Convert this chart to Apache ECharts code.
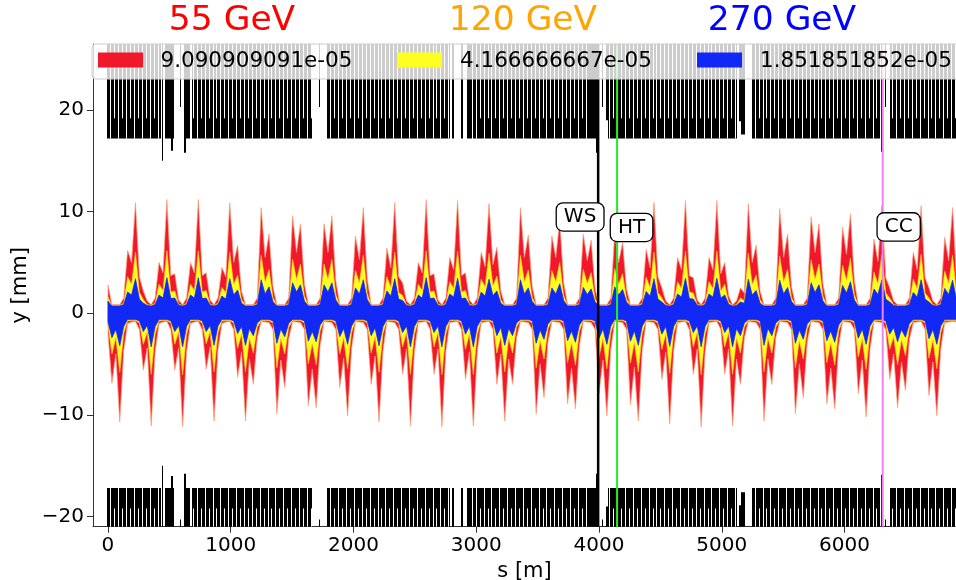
<!DOCTYPE html>
<html><head><meta charset="utf-8">
<script src="https://cdn.jsdelivr.net/npm/echarts@6/dist/echarts.min.js"></script>
<style>html,body{margin:0;padding:0;background:#fff}#c{width:956px;height:580px}</style>
</head><body><div id="c"></div>
<script>
// ---------------- data ----------------
const titles = ['55 GeV', '120 GeV', '270 GeV'];
const emittanceLabels = ['9.090909091e-05', '4.166666667e-05', '1.851851852e-05'];
const xTicks = [0, 1000, 2000, 3000, 4000, 5000, 6000];
const yTicks = [-20, -10, 0, 10, 20];

const envS = [
0,32,64,96,128,160,192,224, 256,288,320,352,384,416,448,480, 512,544,576,608,640,672,704,736,
768,800,832,864,896,928,960,992, 1024,1056,1088,1120,1152,1184,1216,1248, 1280,1312,1344,1376,1408,1440,1472,1504,
1536,1568,1600,1632,1664,1696,1728,1760, 1792,1824,1856,1888,1920,1952,1984,2016, 2048,2080,2112,2144,2176,2208,2240,2272,
2304,2336,2368,2400,2432,2464,2496,2528, 2560,2592,2624,2656,2688,2720,2752,2784, 2816,2848,2880,2912,2944,2976,3008,3040,
3072,3104,3136,3168,3200,3232,3264,3296, 3328,3360,3392,3424,3456,3488,3520,3552, 3584,3616,3648,3680,3712,3744,3776,3808,
3840,3872,3904,3936,3968,4000,4032,4064, 4096,4128,4160,4192,4224,4256,4288,4320, 4352,4384,4416,4448,4480,4512,4544,4576,
4608,4640,4672,4704,4736,4768,4800,4832, 4864,4896,4928,4960,4992,5024,5056,5088, 5120,5152,5184,5216,5248,5280,5312,5344,
5376,5408,5440,5472,5504,5536,5568,5600, 5632,5664,5696,5728,5760,5792,5824,5856, 5888,5920,5952,5984,6016,6048,6080,6112,
6144,6176,6208,6240,6272,6304,6336,6368, 6400,6432,6464,6496,6528,6560,6592,6624, 6656,6688,6720,6752,6784,6816,6848,6880,
6912];

const redUpper = [
2.8,0.85,0.85,0.85,1.5,6.2,5.0,10.9, 3.6,2.2,1.2,0.85,1.5,5.0,4.0,11.2, 3.7,3.9,1.3,0.85,1.5,5.0,4.0,11.2,
3.7,4.0,1.3,0.85,1.5,4.5,3.6,10.9, 5.0,6.7,2.2,0.85,0.85,0.85,1.5,10.4, 5.5,7.8,2.6,0.85,0.85,0.85,1.5,9.6,
6.0,8.8,2.9,0.85,0.85,0.85,1.5,8.8, 6.0,9.6,3.2,0.85,0.85,0.85,1.5,7.6, 5.3,10.4,3.4,0.85,0.85,0.85,1.5,6.4,
4.5,10.9,3.6,3.0,1.2,0.85,1.5,5.0, 4.0,11.2,3.7,3.9,1.3,0.85,1.5,5.5, 4.3,11.1,3.7,4.0,1.3,0.85,1.5,6.0,
4.6,10.8,4.8,6.5,2.2,0.85,0.85,0.85, 1.5,10.4,5.5,7.7,2.6,0.85,0.85,0.85, 1.5,7.6,5.5,9.1,3.0,0.85,0.85,0.85,
1.5,7.8,5.2,7.2,2.4,0.85,0.85,0.85, 1.5,8.0,5.0,7.0,2.4,0.85,0.85,0.85, 1.5,6.3,4.5,10.9,3.6,2.5,1.2,0.85,
1.5,5.5,4.3,11.1,3.7,3.5,1.3,0.85, 1.5,5.5,4.3,11.1,3.9,5.0,1.7,0.85, 1.2,2.5,2.0,10.8,5.0,6.7,2.2,0.85,
0.85,0.85,1.5,10.3,5.5,7.8,2.6,0.85, 0.85,0.85,1.5,9.5,6.0,8.8,2.9,0.85, 0.85,0.85,1.5,8.5,5.8,9.8,3.2,0.85,
0.85,0.85,1.5,7.3,5.1,10.6,3.5,2.5, 1.2,0.85,0.85,0.85,1.5,6.0,4.3,10.6, 3.5,2.5,1.2,0.85,1.5,7.5,5.2,10.4,
3.4];

const redLower = [
-2.0,-6.9,-4.0,-10.7,-3.7,-1.0,-0.85,-0.8, -1.6,-5.6,-3.4,-11.1,-3.8,-1.0,-0.85,-0.8, -1.6,-5.6,-3.4,-11.2,-3.8,-1.0,-0.85,-0.8,
-1.6,-5.5,-3.3,-10.6,-3.6,-1.0,-0.85,-0.8, -1.6,-6.3,-3.8,-10.6,-4.5,-7.0,-2.4,-0.8, -0.85,-0.9,-1.6,-9.9,-4.6,-7.3,-2.5,-0.8,
-0.85,-0.9,-1.6,-9.1,-5.5,-9.3,-3.2,-0.8, -0.85,-0.9,-1.6,-7.3,-4.4,-10.1,-3.5,-0.8, -0.85,-0.9,-1.6,-7.0,-4.2,-10.7,-3.7,-0.8,
-0.85,-0.9,-1.6,-6.0,-3.5,-11.1,-3.8,-0.9, -0.85,-0.8,-1.6,-6.0,-3.5,-11.2,-3.8,-0.9, -0.85,-0.8,-1.6,-6.5,-3.8,-11.1,-3.8,-0.9,
-0.85,-0.8,-1.6,-7.0,-4.0,-10.6,-4.5,-7.0, -2.4,-0.8,-0.85,-0.9,-1.6,-9.9,-5.0,-8.3, -2.8,-0.8,-0.85,-0.9,-1.6,-8.9,-5.4,-9.4,
-3.2,-0.8,-0.85,-0.9,-1.6,-7.9,-4.6,-10.1, -3.5,-0.8,-0.85,-0.9,-1.6,-9.0,-5.3,-10.6, -3.6,-0.8,-0.85,-0.9,-1.6,-6.5,-3.8,-10.9,
-3.7,-0.9,-0.85,-0.8,-1.6,-6.0,-3.5,-11.2, -3.8,-0.9,-0.85,-0.8,-1.6,-6.0,-3.5,-11.1, -4.5,-7.0,-2.4,-0.8,-0.85,-0.9,-1.6,-10.6,
-4.5,-7.0,-2.4,-0.8,-0.85,-0.9,-1.6,-9.9, -5.0,-8.3,-2.8,-0.8,-0.85,-0.9,-1.6,-8.9, -5.4,-9.4,-3.2,-0.8,-0.85,-0.9,-1.6,-7.9,
-4.6,-10.2,-3.5,-0.8,-0.85,-0.9,-1.6,-6.5, -4.0,-9.3,-4.8,-7.6,-2.6,-0.9,-0.85,-0.8, -1.6,-8.1,-4.8,-10.1,-3.5,-0.9,-0.85,-0.8,
-0.85];

const yellowUpper = [
1.6,0.78,0.78,0.78,1.0,3.6,2.85,6.0, 2.05,1.35,0.85,0.78,1.0,2.85,2.25,6.15, 2.1,2.2,0.9,0.78,1.0,2.85,2.25,6.15,
2.1,2.25,0.9,0.78,1.0,2.55,2.05,6.0, 2.85,3.75,1.35,0.78,0.78,0.78,1.0,5.7, 3.1,4.3,1.55,0.78,0.78,0.78,1.0,5.3,
3.35,4.85,1.7,0.78,0.78,0.78,1.0,4.85, 3.35,5.3,1.85,0.78,0.78,0.78,1.0,4.2, 3.0,5.7,1.95,0.78,0.78,0.78,1.0,3.6,
2.55,6.0,2.05,1.75,0.85,0.78,1.0,2.85, 2.25,6.15,2.1,2.2,0.9,0.78,1.0,3.1, 2.45,6.1,2.1,2.25,0.9,0.78,1.0,3.35,
2.6,5.9,2.7,3.65,1.35,0.78,0.78,0.78, 1.0,5.7,3.1,4.25,1.55,0.78,0.78,0.78, 1.0,4.2,3.1,5.0,1.75,0.78,0.78,0.78,
1.0,4.3,2.95,4.0,1.45,0.78,0.78,0.78, 1.0,4.4,2.85,3.9,1.45,0.78,0.78,0.78, 1.0,3.55,2.55,6.0,2.05,1.5,0.85,0.78,
1.0,3.1,2.45,6.1,2.1,2.0,0.9,0.78, 1.0,3.1,2.45,6.1,2.2,2.85,1.1,0.78, 0.85,1.5,1.25,5.9,2.85,3.75,1.35,0.78,
0.78,0.78,1.0,5.65,3.1,4.3,1.55,0.78, 0.78,0.78,1.0,5.25,3.35,4.85,1.7,0.78, 0.78,0.78,1.0,4.7,3.25,5.4,1.85,0.78,
0.78,0.78,1.0,4.05,2.9,5.8,2.0,1.5, 0.85,0.78,0.78,0.78,1.0,3.35,2.45,5.8, 2.0,1.5,0.85,0.78,1.0,4.15,2.95,5.7,
1.95];

const yellowLower = [
-1.15,-4.0,-2.4,-5.8,-2.0,-0.75,-0.72,-0.72, -0.95,-3.05,-1.85,-6.0,-2.05,-0.75,-0.72,-0.72, -0.95,-3.05,-1.85,-6.05,-2.05,-0.75,-0.72,-0.72,
-0.95,-3.0,-1.8,-5.75,-1.95,-0.75,-0.72,-0.72, -0.95,-3.45,-2.05,-5.75,-2.45,-3.9,-1.35,-0.72, -0.72,-0.72,-0.95,-5.35,-2.5,-4.0,-1.4,-0.72,
-0.72,-0.72,-0.95,-4.95,-3.0,-5.05,-1.75,-0.72, -0.72,-0.72,-0.95,-4.0,-2.4,-5.45,-1.9,-0.72, -0.72,-0.72,-0.95,-3.9,-2.3,-5.8,-2.0,-0.72,
-0.72,-0.72,-0.95,-3.3,-1.9,-6.0,-2.05,-0.72, -0.72,-0.72,-0.95,-3.3,-1.9,-6.05,-2.05,-0.72, -0.72,-0.72,-0.95,-3.55,-2.05,-6.0,-2.05,-0.72,
-0.72,-0.72,-0.95,-3.9,-2.3,-5.75,-2.45,-3.9, -1.35,-0.72,-0.72,-0.72,-0.95,-5.35,-2.7,-4.5, -1.55,-0.72,-0.72,-0.72,-0.95,-4.85,-2.9,-5.1,
-1.75,-0.72,-0.72,-0.72,-0.95,-4.3,-2.5,-5.45, -1.9,-0.72,-0.72,-0.72,-0.95,-4.9,-2.85,-5.75, -1.95,-0.72,-0.72,-0.72,-0.95,-3.55,-2.05,-5.9,
-2.0,-0.72,-0.72,-0.72,-0.95,-3.3,-1.9,-6.05, -2.05,-0.72,-0.72,-0.72,-0.95,-3.3,-1.9,-6.0, -2.45,-3.9,-1.35,-0.72,-0.72,-0.72,-0.95,-5.75,
-2.45,-3.9,-1.35,-0.72,-0.72,-0.72,-0.95,-5.35, -2.7,-4.5,-1.55,-0.72,-0.72,-0.72,-0.95,-4.85, -2.9,-5.1,-1.75,-0.72,-0.72,-0.72,-0.95,-4.3,
-2.5,-5.5,-1.9,-0.72,-0.72,-0.72,-0.95,-3.55, -2.3,-5.05,-2.6,-4.15,-1.45,-0.72,-0.72,-0.72, -0.95,-4.4,-2.6,-5.45,-1.9,-0.72,-0.72,-0.72,
-0.72];

const blueUpper = [
1.2,0.72,0.72,0.72,0.86,2.1,1.8,3.4, 1.4,1.0,0.77,0.72,0.86,1.8,1.5,3.5, 1.45,1.5,0.8,0.72,0.86,1.8,1.5,3.5,
1.45,1.5,0.8,0.72,0.86,1.7,1.4,3.4, 1.8,2.3,1.0,0.72,0.72,0.72,0.86,3.3, 1.9,2.6,1.15,0.72,0.72,0.72,0.86,3.0,
2.1,2.8,1.2,0.72,0.72,0.72,0.86,2.8, 2.1,3.0,1.3,0.72,0.72,0.72,0.86,2.5, 1.9,3.3,1.35,0.72,0.72,0.72,0.86,2.2,
1.7,3.4,1.4,1.25,0.77,0.72,0.86,1.8, 1.5,3.5,1.45,1.5,0.8,0.72,0.86,1.9, 1.6,3.45,1.45,1.5,0.8,0.72,0.86,2.1,
1.7,3.35,1.75,2.2,1.0,0.72,0.72,0.72, 0.86,3.3,1.9,2.5,1.15,0.72,0.72,0.72, 0.86,2.5,1.9,2.9,1.25,0.72,0.72,0.72,
0.86,2.55,1.85,2.4,1.1,0.72,0.72,0.72, 0.86,2.6,1.8,2.35,1.1,0.72,0.72,0.72, 0.86,2.15,1.7,3.4,1.4,1.1,0.77,0.72,
0.86,1.9,1.6,3.45,1.45,1.4,0.8,0.72, 0.86,1.9,1.6,3.45,1.5,1.8,0.9,0.72, 0.77,1.1,1.0,3.35,1.8,2.25,1.0,0.72,
0.72,0.72,0.86,3.25,1.9,2.55,1.15,0.72, 0.72,0.72,0.86,3.0,2.05,2.8,1.2,0.72, 0.72,0.72,0.86,2.75,2.0,3.1,1.3,0.72,
0.72,0.72,0.86,2.4,1.85,3.3,1.4,1.1, 0.77,0.72,0.72,0.72,0.86,2.05,1.6,3.3, 1.4,1.1,0.77,0.72,0.86,2.45,1.85,3.25,
1.35];

const blueLower = [
-0.85,-2.4,-1.6,-3.2,-1.3,-0.6,-0.6,-0.6, -0.75,-1.8,-1.2,-3.3,-1.3,-0.6,-0.6,-0.6, -0.75,-1.8,-1.2,-3.3,-1.3,-0.6,-0.6,-0.6,
-0.75,-1.8,-1.2,-3.15,-1.25,-0.6,-0.6,-0.6, -0.75,-2.0,-1.3,-3.15,-1.5,-2.2,-0.95,-0.6, -0.6,-0.6,-0.75,-2.95,-1.55,-2.3,-1.0,-0.6,
-0.6,-0.6,-0.75,-2.75,-1.8,-2.8,-1.15,-0.6, -0.6,-0.6,-0.75,-2.3,-1.5,-3.05,-1.25,-0.6, -0.6,-0.6,-0.75,-2.2,-1.45,-3.2,-1.3,-0.6,
-0.6,-0.6,-0.75,-1.9,-1.25,-3.3,-1.3,-0.6, -0.6,-0.6,-0.75,-1.9,-1.25,-3.3,-1.3,-0.6, -0.6,-0.6,-0.75,-2.05,-1.3,-3.3,-1.3,-0.6,
-0.6,-0.6,-0.75,-2.2,-1.4,-3.15,-1.5,-2.2, -0.95,-0.6,-0.6,-0.6,-0.75,-2.95,-1.65,-2.55, -1.05,-0.6,-0.6,-0.6,-0.75,-2.7,-1.75,-2.85,
-1.15,-0.6,-0.6,-0.6,-0.75,-2.45,-1.55,-3.05, -1.25,-0.6,-0.6,-0.6,-0.75,-2.75,-1.75,-3.15, -1.25,-0.6,-0.6,-0.6,-0.75,-2.05,-1.3,-3.25,
-1.3,-0.6,-0.6,-0.6,-0.75,-1.9,-1.25,-3.3, -1.3,-0.6,-0.6,-0.6,-0.75,-1.9,-1.25,-3.3, -1.5,-2.2,-0.95,-0.6,-0.6,-0.6,-0.75,-3.15,
-1.5,-2.2,-0.95,-0.6,-0.6,-0.6,-0.75,-2.95, -1.65,-2.55,-1.05,-0.6,-0.6,-0.6,-0.75,-2.7, -1.75,-2.85,-1.15,-0.6,-0.6,-0.6,-0.75,-2.45,
-1.55,-3.05,-1.25,-0.6,-0.6,-0.6,-0.75,-2.05, -1.4,-2.8,-1.6,-2.35,-1.0,-0.6,-0.6,-0.6, -0.75,-2.5,-1.6,-3.05,-1.25,-0.6,-0.6,-0.6,
-0.6];

// aperture elements: [s start, s end, inner half-aperture in mm] (drawn symmetric top/bottom)
const apertureBlocks = [
[-8,430,17.2],[440,452,15.0],[462,534,17.2],[516,526,16.0],[590,598,20.3],[622,632,15.8],[632,668,17.2],
[684,1662,17.2],[1718,1728,20.3],[1783,2787,17.2],[2800,2820,17.2],[2874,2890,17.2],[2928,2962,17.2],
[2972,3975,17.2],[3975,3992,15.8],[4024,4034,20.3],[4060,4077,19.0],[4077,5122,17.2],[5140,5160,18.9],
[5160,5190,17.6],[5244,6287,17.2],[6294,6310,15.9],[6328,6340,20.3],[6370,6908,17.2]];
const fullGapS = [20,84,148,212,276,340,404,
724,788,852,916,980,1044,1108,1172,1236,1300,1364,1428,1492,1556,1620,
1812,1876,1940,2004,2068,2132,2196,2260,2324,2388,2452,2516,2580,2644,2708,2772,
2996,3060,3124,3188,3252,3316,3380,3444,3508,3572,3636,3700,3764,3828,3892,
4084,4148,4212,4276,4340,4404,4468,4532,4596,4660,4724,4788,4852,4916,4980,5044,5108,
5268,5332,5396,5460,5524,5588,5652,5716,5780,5844,5908,5972,6036,6100,6164,6228,
6420,6484,6548,6612,6676,6740,6804,6868];
const partialGapS = [52,116,180,244,308,372,
692,756,820,884,948,1012,1076,1140,1204,1268,1332,1396,1460,1524,1588,1652,
1844,1908,1972,2036,2100,2164,2228,2292,2356,2420,2484,2548,2612,2676,2740,
3028,3092,3156,3220,3284,3348,3412,3476,3540,3604,3668,3732,3796,3860,
4116,4180,4244,4308,4372,4436,4500,4564,4628,4692,4756,4820,4884,4948,5012,5076,
5300,5364,5428,5492,5556,5620,5684,5748,5812,5876,5940,6004,6068,6132,6196,6260,
6388,6452,6516,6580,6644,6708,6772,6836,6900];
const dipoleAperture = 17.2;
const quadAperture = 19.2;

// markers
const markerNames = ['WS', 'HT', 'CC'];
const markerS = [3993, 4147, 6311];
const markerLabelS = [3846, 4265, 6441];
const markerLabelY = [9.48, 8.45, 8.5];

// ---------------- styling ----------------
const FONT = 'DejaVu Sans';
const X_MIN = -122, X_MAX = 6908, Y_MIN = -21, Y_MAX = 26.5;
const bandColors = ['#f2182b', '#ffff1f', '#1229f5'];
const bandStrokes = ['rgba(255,160,120,0.9)', 'rgba(250,200,60,0.8)', 'rgba(18,41,245,0.9)'];
const markerColors = ['#000000', '#22ee22', '#ee82ee'];
const markerWidths = [2.5, 2, 2];
const titleColors = ['#ff0000', '#ffa500', '#0000ff'];

function bandSeries(upper, lower, fill, stroke, z) {
  return {
    type: 'custom', coordinateSystem: 'cartesian2d', clip: true, z: z, silent: true,
    data: [[envS[0], upper[0]]],
    renderItem: function (params, api) {
      const pts = [];
      for (let i = 0; i < envS.length; i++) pts.push(api.coord([envS[i], upper[i]]));
      for (let j = envS.length - 1; j >= 0; j--) pts.push(api.coord([envS[j], lower[j]]));
      return { type: 'polygon', shape: { points: pts }, style: { fill: fill, stroke: stroke, lineWidth: 0.8 } };
    }
  };
}

function apertureRects(api, s0, s1, inner, color, minW) {
  const xa = Math.round(api.coord([s0, 0])[0]);
  const xb = Math.round(api.coord([s1, 0])[0]);
  const w = Math.max(minW, xb - xa);
  const yTopOut = api.coord([0, Y_MAX])[1], yTopIn = api.coord([0, inner])[1];
  const yBotIn = api.coord([0, -inner])[1], yBotOut = api.coord([0, Y_MIN])[1];
  return { type: 'group', children: [
    { type: 'rect', shape: { x: xa, y: yTopOut, width: w, height: yTopIn - yTopOut }, style: { fill: color } },
    { type: 'rect', shape: { x: xa, y: yBotIn, width: w, height: yBotOut - yBotIn }, style: { fill: color } }
  ]};
}

const gapData = fullGapS.map(s => [s, dipoleAperture]).concat(partialGapS.map(s => [s, quadAperture]));

const series = [
  {
    type: 'custom', coordinateSystem: 'cartesian2d', clip: true, z: 1, silent: true,
    data: apertureBlocks, encode: { x: [0, 1], y: 2 },
    renderItem: function (params, api) {
      return apertureRects(api, api.value(0), api.value(1), api.value(2), '#000', 1);
    }
  },
  {
    type: 'custom', coordinateSystem: 'cartesian2d', clip: true, z: 2, silent: true,
    data: gapData, encode: { x: 0, y: 1 },
    renderItem: function (params, api) {
      const s = api.value(0);
      return apertureRects(api, s, s, api.value(1), '#ffffff', 1);
    }
  },
  bandSeries(redUpper, redLower, bandColors[0], bandStrokes[0], 3),
  bandSeries(yellowUpper, yellowLower, bandColors[1], bandStrokes[1], 4),
  bandSeries(blueUpper, blueLower, bandColors[2], bandStrokes[2], 5),
  {
    type: 'custom', coordinateSystem: 'cartesian2d', clip: false, z: 6, silent: true,
    data: markerS.map((s, i) => [s, 0, i]), encode: { x: 0, y: 1 },
    renderItem: function (params, api) {
      const i = params.dataIndex;
      const s = api.value(0);
      const p0 = api.coord([s, Y_MIN]), p1 = api.coord([s, Y_MAX]);
      const lp = api.coord([markerLabelS[i], markerLabelY[i]]);
      return { type: 'group', children: [
        { type: 'line', shape: { x1: p0[0], y1: p0[1], x2: p1[0], y2: p1[1] },
          style: { stroke: markerColors[i], lineWidth: markerWidths[i] } },
        { type: 'text', x: lp[0], y: lp[1], z2: 10,
          style: { text: markerNames[i], fontFamily: FONT, fontSize: 20, fill: '#000',
            align: 'center', verticalAlign: 'middle', backgroundColor: '#fff',
            borderColor: '#000', borderWidth: 1.3, borderRadius: 6, padding: [4, 7, 3, 7] } }
      ]};
    }
  }
];

const graphics = [];
const titleX = [232, 523, 782];
titles.forEach((t, i) => graphics.push({
  type: 'text', x: titleX[i], y: 21, z: 100,
  style: { text: t, fontFamily: FONT, fontSize: 34.5, fill: titleColors[i], align: 'center', verticalAlign: 'middle' }
}));
graphics.push({ type: 'rect', z: 90, shape: { x: 92, y: 44, width: 880, height: 35, r: 4 },
  style: { fill: 'rgba(255,255,255,0.8)', stroke: '#cccccc', lineWidth: 1 } });
const swX = [98, 397, 697], txX = [160.5, 460, 760];
emittanceLabels.forEach((t, i) => {
  graphics.push({ type: 'rect', z: 91, shape: { x: swX[i], y: 52.5, width: 45, height: 15 }, style: { fill: bandColors[i] } });
  graphics.push({ type: 'text', z: 91, x: txX[i], y: 61, style: { text: t, fontFamily: FONT, fontSize: 21.5, fill: '#000', align: 'left', verticalAlign: 'middle' } });
});

const fmt = v => String(v).replace('-', '\u2212');

const option = {
  backgroundColor: '#ffffff',
  animation: false,
  grid: { left: 93, right: 0, top: 44, bottom: 53.3, containLabel: false, outerBoundsMode: 'none' },
  xAxis: {
    type: 'value', min: X_MIN, max: X_MAX,
    name: 's [m]', nameLocation: 'middle', nameGap: 32,
    nameTextStyle: { fontFamily: FONT, fontSize: 21, color: '#000' },
    axisLine: { onZero: false, lineStyle: { color: '#333', width: 1 } },
    axisTick: { customValues: xTicks, length: 6, lineStyle: { color: '#333' } },
    axisLabel: { customValues: xTicks, formatter: fmt, fontFamily: FONT, fontSize: 20, color: '#000', margin: 9 },
    splitLine: { show: false }
  },
  yAxis: {
    type: 'value', min: Y_MIN, max: Y_MAX,
    name: 'y [mm]', nameLocation: 'middle', nameGap: 60, nameRotate: 90,
    nameTextStyle: { fontFamily: FONT, fontSize: 21, color: '#000' },
    axisLine: { show: true, onZero: false, lineStyle: { color: '#333', width: 1 } },
    axisTick: { show: true, customValues: yTicks, length: 6, lineStyle: { color: '#333' } },
    axisLabel: { customValues: yTicks, formatter: fmt, fontFamily: FONT, fontSize: 20, color: '#000', margin: 9 },
    splitLine: { show: false }
  },
  graphic: graphics,
  series: series
};

const chart = echarts.init(document.getElementById('c'), null, { renderer: 'canvas' });
chart.setOption(option);
</script></body></html>
